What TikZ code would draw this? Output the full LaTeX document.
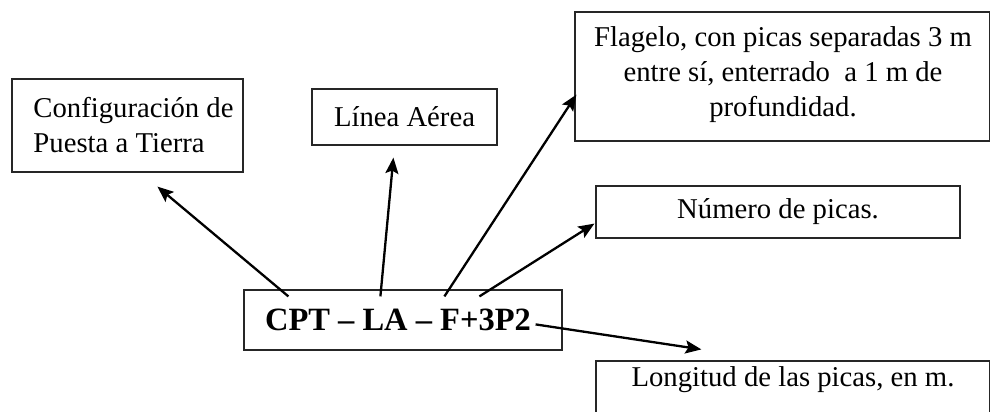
\documentclass[tikz,border=0pt]{standalone}
\usepackage{fontspec}
\setmainfont{Liberation Serif}
\usetikzlibrary{arrows.meta,calc}
\begin{document}
\begin{tikzpicture}[x=1pt,y=-1pt,
  box/.style={draw=black!85,line width=1.2pt,rectangle,inner sep=0pt,
    font=\fontsize{28.7}{35}\selectfont,align=center},
  txt/.style={font=\fontsize{28.7}{35}\selectfont,align=center,inner sep=0pt},
  conn/.style={line width=2.3pt,-{Stealth[length=16pt,width=13pt,inset=3pt]}}]
\clip (0,0) rectangle (990,412);
\fill[white] (0,0) rectangle (990,412);
% boxes
\node[box,minimum width=231pt,minimum height=93pt,align=left] (b1) at (127.5,125.5)
  {\hspace*{12pt}Configuración de\\\hspace*{12pt}Puesta a Tierra};
\node[box,minimum width=185pt,minimum height=56pt] (b2) at (404.5,117) {Línea Aérea};
\node[box,minimum width=415pt,minimum height=129pt] (b3) at (782.5,76.5) {};
\node[txt] (t3) at (783,75)
  {Flagelo, con picas separadas 3 m\\entre sí, enterrado\ \ a 1 m de\\profundidad.};
\node[box,minimum width=364pt,minimum height=52pt] (b4) at (778,212) {Número de picas.};
\node[box,minimum width=394pt,minimum height=80pt] (b6) at (793,401) {};
\node[txt] (t6) at (793,380) {Longitud de las picas, en m.};
\node[box,minimum width=318pt,minimum height=60pt,font=\fontsize{32.5}{38}\selectfont\bfseries] (c) at (403,320)
  {CPT -- LA -- F+3P2\hspace*{10pt}};
% connectors
\draw[conn] ($(c.north west)+(45,7)$) -- ($(b1.south west)+(146,14)$);
\draw[conn] ($(c.north west)+(137,7)$) -- ($(b2.south west)+(82,12)$);
\draw[conn] ($(c.north west)+(201,7)$) -- ($(b3.south west)+(2,-47)$);
\draw[conn] ($(c.north west)+(236,7)$) -- ($(b4.south west)+(-1,-15)$);
\draw[conn] ($(c.north east)+(-27,35)$) -- ($(b6.north west)+(106,-11)$);
\end{tikzpicture}
\end{document}
